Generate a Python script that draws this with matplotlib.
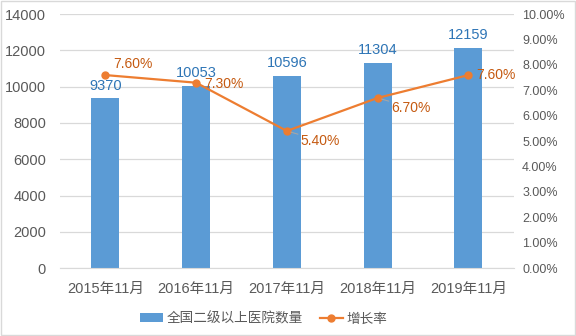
import matplotlib
matplotlib.use("Agg")
import matplotlib.pyplot as plt
from matplotlib.ticker import FuncFormatter

plt.rcParams['font.family'] = ['Liberation Sans', 'Noto Sans CJK SC', 'DejaVu Sans']

# 数据
months = ["2015年11月", "2016年11月", "2017年11月", "2018年11月", "2019年11月"]
hospitals = [9370, 10053, 10596, 11304, 12159]
growth = [7.60, 7.30, 5.40, 6.70, 7.60]

bar_color = "#5B9BD5"
line_color = "#ED7D31"
grid_color = "#D9D9D9"
text_color = "#595959"

fig = plt.figure(figsize=(5.76, 3.36), dpi=100)
ax = fig.add_axes([0.104, 0.202, 0.788, 0.756])
ax2 = ax.twinx()

x = list(range(len(months)))
bars = ax.bar(x, hospitals, width=0.31, color=bar_color, zorder=2, label="全国二级以上医院数量")
ax.set_xlim(-0.5, len(months) - 0.5)
ax.set_ylim(0, 14000)
ax.set_yticks(range(0, 14001, 2000))
ax.grid(axis='y', color=grid_color, linewidth=0.9, zorder=0)
ax.set_axisbelow(True)
ax.set_xticks(x)
ax.set_xticklabels(months)
ax.tick_params(axis='x', length=0, labelsize=10.5, labelcolor=text_color, pad=10)
ax.tick_params(axis='y', length=0, labelsize=10.5, labelcolor=text_color, pad=10)
for s in ["top", "left", "right"]:
    ax.spines[s].set_visible(False)
ax.spines["bottom"].set_color(grid_color)

for xi, v in zip(x, hospitals):
    ax.annotate(str(v), (xi, v), xytext=(0, 4), textcoords="offset points",
                ha="center", va="bottom", fontsize=10.5, color="#2E75B6")

line, = ax2.plot(x, growth, color=line_color, linewidth=1.6, marker='o', markersize=5,
                 zorder=3, label="增长率")
ax2.set_ylim(0, 10)
ax2.set_yticks(range(0, 11))
ax2.yaxis.set_major_formatter(FuncFormatter(lambda v, p: f"{v:.2f}%"))
ax2.tick_params(axis='y', length=0, labelsize=9, labelcolor=text_color, pad=6)
for s in ["top", "left", "right", "bottom"]:
    ax2.spines[s].set_visible(False)

# 增长率标签
offsets = [(6, 8), (6, -1), (10, -7), (10, -7), (6, 0)]
leaders = [False, False, True, True, False]
for xi, v, off, ld in zip(x, growth, offsets, leaders):
    ax2.annotate(f"{v:.2f}%", (xi, v), xytext=off,
                 textcoords="offset points", ha="left", va="center",
                 fontsize=10, color="#C55A11",
                 arrowprops=dict(arrowstyle="-", color="#A6A6A6", linewidth=0.8,
                                 shrinkA=0, shrinkB=3) if ld else None)

fig.legend([bars, line], ["全国二级以上医院数量", "增长率"], loc="lower center",
           bbox_to_anchor=(0.458, -0.005), ncol=2, frameon=False, fontsize=9.8,
           labelcolor=text_color, handlelength=1.7, handletextpad=0.3,
           columnspacing=1.2)

# 外框
fig.patches.append(plt.Rectangle((0.002, 0.003), 0.996, 0.994, transform=fig.transFigure,
                                 fill=False, edgecolor="#D9D9D9", linewidth=1))

fig.savefig("out.png", dpi=100)
